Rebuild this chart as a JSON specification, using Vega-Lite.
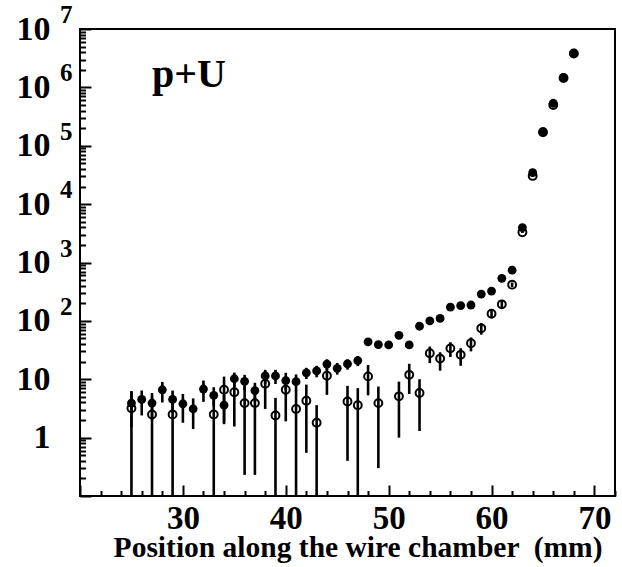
{
  "$schema": "https://vega.github.io/schema/vega-lite/v6.json",
  "width": 535,
  "height": 467,
  "autosize": {"type": "none"},
  "padding": {"left": 80, "top": 29, "right": 7, "bottom": 71},
  "background": "white",
  "config": {
    "view": {"stroke": "black", "strokeWidth": 2},
    "font": "Liberation Serif"
  },
  "datasets": {
    "pts": [
      {"pos": 25, "series": "filled", "n": 3.9, "lo": 1.5, "hi": 6.3},
      {"pos": 26, "series": "filled", "n": 4.5, "lo": 2.4, "hi": 6.4},
      {"pos": 27, "series": "filled", "n": 3.9, "lo": 2.0, "hi": 5.8},
      {"pos": 28, "series": "filled", "n": 6.6, "lo": 4.0, "hi": 9.0},
      {"pos": 29, "series": "filled", "n": 4.5, "lo": 2.6, "hi": 6.4},
      {"pos": 30, "series": "filled", "n": 3.8, "lo": 1.8, "hi": 5.6},
      {"pos": 31, "series": "filled", "n": 3.1, "lo": 1.4, "hi": 4.7},
      {"pos": 32, "series": "filled", "n": 6.8, "lo": 4.1, "hi": 9.5},
      {"pos": 33, "series": "filled", "n": 5.3, "lo": 3.4, "hi": 7.3},
      {"pos": 34, "series": "filled", "n": 3.6, "lo": 1.8, "hi": 5.4},
      {"pos": 35, "series": "filled", "n": 10.2, "lo": 7.4, "hi": 13.0},
      {"pos": 36, "series": "filled", "n": 9.2, "lo": 6.5, "hi": 11.9},
      {"pos": 37, "series": "filled", "n": 6.4, "lo": 4.1, "hi": 8.7},
      {"pos": 38, "series": "filled", "n": 11.4, "lo": 8.3, "hi": 14.5},
      {"pos": 39, "series": "filled", "n": 11.4, "lo": 8.3, "hi": 14.5},
      {"pos": 40, "series": "filled", "n": 9.5, "lo": 6.5, "hi": 12.9},
      {"pos": 41, "series": "filled", "n": 9.1, "lo": 6.2, "hi": 12.1},
      {"pos": 42, "series": "filled", "n": 12.9, "lo": 10.1, "hi": 15.7},
      {"pos": 43, "series": "filled", "n": 13.9, "lo": 10.8, "hi": 17.0},
      {"pos": 44, "series": "filled", "n": 18.2, "lo": 14.4, "hi": 22},
      {"pos": 45, "series": "filled", "n": 15.4, "lo": 12, "hi": 19},
      {"pos": 46, "series": "filled", "n": 18.3, "lo": 14.6, "hi": 22},
      {"pos": 47, "series": "filled", "n": 20.9, "lo": 16.8, "hi": 25},
      {"pos": 48, "series": "filled", "n": 43.7, "lo": 37, "hi": 50},
      {"pos": 49, "series": "filled", "n": 39.3, "lo": 33.5, "hi": 45},
      {"pos": 50, "series": "filled", "n": 38.8, "lo": 33, "hi": 44.5},
      {"pos": 51, "series": "filled", "n": 56.5, "lo": 50, "hi": 63},
      {"pos": 52, "series": "filled", "n": 38.8, "lo": 33, "hi": 44.5},
      {"pos": 53, "series": "filled", "n": 81, "lo": 73, "hi": 89},
      {"pos": 54, "series": "filled", "n": 100, "lo": 90, "hi": 110},
      {"pos": 55, "series": "filled", "n": 110, "lo": 100, "hi": 120},
      {"pos": 56, "series": "filled", "n": 172, "lo": 159, "hi": 185},
      {"pos": 57, "series": "filled", "n": 183, "lo": 169, "hi": 197},
      {"pos": 58, "series": "filled", "n": 187, "lo": 173, "hi": 201},
      {"pos": 59, "series": "filled", "n": 288, "lo": 271, "hi": 305},
      {"pos": 60, "series": "filled", "n": 324, "lo": 306, "hi": 342},
      {"pos": 61, "series": "filled", "n": 535, "lo": 512, "hi": 558},
      {"pos": 62, "series": "filled", "n": 738, "lo": 711, "hi": 765},
      {"pos": 63, "series": "filled", "n": 3960, "lo": 3900, "hi": 4020},
      {"pos": 64, "series": "filled", "n": 34600, "lo": 34400, "hi": 34800},
      {"pos": 65, "series": "filled", "n": 174000, "lo": 173500, "hi": 174500},
      {"pos": 66, "series": "filled", "n": 534000, "lo": 533000, "hi": 535000},
      {"pos": 67, "series": "filled", "n": 1466000, "lo": 1464000, "hi": 1468000},
      {"pos": 68, "series": "filled", "n": 3840000, "lo": 3835000, "hi": 3845000},
      {"pos": 25, "series": "open", "n": 3.2, "lo": 0.1, "hi": 6.0},
      {"pos": 27, "series": "open", "n": 2.5, "lo": 0.1, "hi": 5.0},
      {"pos": 29, "series": "open", "n": 2.5, "lo": 0.1, "hi": 5.0},
      {"pos": 33, "series": "open", "n": 2.5, "lo": 0.1, "hi": 5.0},
      {"pos": 34, "series": "open", "n": 6.6, "lo": 1.7, "hi": 11.1},
      {"pos": 35, "series": "open", "n": 6.0, "lo": 1.55, "hi": 10.5},
      {"pos": 36, "series": "open", "n": 3.9, "lo": 0.23, "hi": 7.5},
      {"pos": 37, "series": "open", "n": 3.9, "lo": 0.23, "hi": 7.6},
      {"pos": 38, "series": "open", "n": 8.4, "lo": 3.1, "hi": 13.7},
      {"pos": 39, "series": "open", "n": 2.4, "lo": 0.1, "hi": 4.8},
      {"pos": 40, "series": "open", "n": 6.6, "lo": 1.9, "hi": 11.3},
      {"pos": 41, "series": "open", "n": 3.1, "lo": 0.1, "hi": 6.5},
      {"pos": 42, "series": "open", "n": 4.3, "lo": 0.55, "hi": 8.1},
      {"pos": 43, "series": "open", "n": 1.8, "lo": 0.1, "hi": 3.6},
      {"pos": 44, "series": "open", "n": 11.5, "lo": 5.4, "hi": 17.6},
      {"pos": 46, "series": "open", "n": 4.15, "lo": 0.4, "hi": 7.7},
      {"pos": 47, "series": "open", "n": 3.6, "lo": 0.1, "hi": 7.05},
      {"pos": 48, "series": "open", "n": 11.2, "lo": 5.3, "hi": 17.5},
      {"pos": 49, "series": "open", "n": 3.9, "lo": 0.3, "hi": 7.5},
      {"pos": 51, "series": "open", "n": 5.1, "lo": 1.0, "hi": 9.1},
      {"pos": 52, "series": "open", "n": 11.9, "lo": 5.6, "hi": 18.4},
      {"pos": 53, "series": "open", "n": 5.8, "lo": 1.3, "hi": 10},
      {"pos": 54, "series": "open", "n": 28, "lo": 18.9, "hi": 36.3},
      {"pos": 55, "series": "open", "n": 22.6, "lo": 14, "hi": 29},
      {"pos": 56, "series": "open", "n": 33.8, "lo": 24, "hi": 43},
      {"pos": 57, "series": "open", "n": 26.2, "lo": 17, "hi": 34},
      {"pos": 58, "series": "open", "n": 41.5, "lo": 30, "hi": 52},
      {"pos": 59, "series": "open", "n": 74.5, "lo": 58, "hi": 92},
      {"pos": 60, "series": "open", "n": 133, "lo": 110, "hi": 160},
      {"pos": 61, "series": "open", "n": 192, "lo": 165, "hi": 220},
      {"pos": 62, "series": "open", "n": 417, "lo": 380, "hi": 455},
      {"pos": 63, "series": "open", "n": 3300, "lo": 3200, "hi": 3400},
      {"pos": 64, "series": "open", "n": 30400, "lo": 30000, "hi": 30800},
      {"pos": 65, "series": "open", "n": 170000, "lo": 169000, "hi": 171000},
      {"pos": 66, "series": "open", "n": 500000, "lo": 498000, "hi": 502000},
      {"pos": 67, "series": "open", "n": 1450000, "lo": 1448000, "hi": 1452000},
      {"pos": 68, "series": "open", "n": 3800000, "lo": 3795000, "hi": 3805000}
    ],
    "exps": [
      {"e": "2", "v": 100},
      {"e": "3", "v": 1000},
      {"e": "4", "v": 10000},
      {"e": "5", "v": 100000},
      {"e": "6", "v": 1000000},
      {"e": "7", "v": 10000000}
    ]
  },
  "layer": [
    {
      "data": {"name": "pts"},
      "transform": [{"filter": "datum.series == 'open'"}],
      "mark": {"type": "rule", "color": "black", "strokeWidth": 2.6},
      "encoding": {
        "x": {
          "field": "pos", "type": "quantitative",
          "scale": {"domain": [20, 72], "nice": false, "zero": false},
          "axis": {
            "orient": "bottom", "values": [30, 40, 50, 60, 70],
            "ticks": false, "domain": false, "grid": false,
            "labelFont": "Liberation Serif", "labelFontWeight": "bold", "labelFontSize": 33,
            "labelColor": "black", "labelPadding": 6, "labelOverlap": false, "labelFlush": false,
            "title": "Position along the wire chamber \u00a0(mm)",
            "titleFont": "Liberation Serif", "titleFontWeight": "bold", "titleFontSize": 29.5,
            "titleColor": "black", "titleAnchor": "end", "titleAlign": "right",
            "titleX": 522, "titleY": 60, "titleBaseline": "alphabetic"
          }
        },
        "y": {
          "field": "lo", "type": "quantitative",
          "scale": {"type": "log", "domain": [0.1, 10000000], "nice": false},
          "axis": {
            "orient": "left", "values": [1, 10, 100, 1000, 10000, 100000, 1000000, 10000000],
            "labelExpr": "datum.value < 5 ? '1' : '10'",
            "ticks": false, "domain": false, "grid": false,
            "labelFont": "Liberation Serif", "labelFontWeight": "bold", "labelFontSize": 34,
            "labelColor": "black", "labelPadding": 30, "labelOverlap": false, "labelFlush": false,
            "labelBound": false, "title": null
          }
        },
        "y2": {"field": "hi"}
      }
    },
    {
      "data": {"name": "pts"},
      "transform": [{"filter": "datum.series == 'filled'"}],
      "mark": {"type": "rule", "color": "black", "strokeWidth": 2.6},
      "encoding": {
        "x": {"field": "pos", "type": "quantitative", "axis": null},
        "y": {"field": "lo", "type": "quantitative", "axis": null},
        "y2": {"field": "hi"}
      }
    },
    {
      "data": {"name": "pts"},
      "transform": [{"filter": "datum.series == 'open'"}],
      "mark": {"type": "point", "shape": "circle", "filled": false, "stroke": "black", "strokeWidth": 2, "size": 62, "opacity": 1},
      "encoding": {
        "x": {"field": "pos", "type": "quantitative", "axis": null},
        "y": {"field": "n", "type": "quantitative", "axis": null}
      }
    },
    {
      "data": {"name": "pts"},
      "transform": [{"filter": "datum.series == 'filled'"}],
      "mark": {"type": "point", "shape": "circle", "filled": true, "color": "black", "size": 78, "opacity": 1},
      "encoding": {
        "x": {"field": "pos", "type": "quantitative", "axis": null},
        "y": {"field": "n", "type": "quantitative", "axis": null}
      }
    },
    {
      "data": {"name": "exps"},
      "mark": {"type": "text", "font": "Liberation Serif", "fontWeight": "bold", "fontSize": 25, "color": "black", "align": "left", "baseline": "alphabetic", "dx": -20, "dy": -6},
      "encoding": {
        "x": {"datum": 20, "type": "quantitative", "axis": null},
        "y": {"field": "v", "type": "quantitative", "axis": null},
        "text": {"field": "e"}
      }
    },
    {
      "data": {"values": [{"label": "p+U", "px": 27, "py": 1000000}]},
      "mark": {"type": "text", "font": "Liberation Serif", "fontWeight": "bold", "fontSize": 40, "color": "black", "align": "left", "baseline": "alphabetic"},
      "encoding": {
        "x": {
          "field": "px", "type": "quantitative",
          "axis": {
            "orient": "bottom",
            "values": [20, 22, 24, 26, 28, 30, 32, 34, 36, 38, 40, 42, 44, 46, 48, 50, 52, 54, 56, 58, 60, 62, 64, 66, 68, 70, 72],
            "labels": false, "domain": false, "grid": false, "title": null,
            "tickColor": "black", "tickWidth": 2,
            "tickSize": {"condition": {"test": "datum.value % 10 == 0", "value": -11}, "value": -5.5}
          }
        },
        "y": {
          "field": "py", "type": "quantitative",
          "axis": {
            "orient": "left",
            "values": [0.1, 0.2, 0.3, 0.4, 0.5, 0.6, 0.7, 0.8, 0.9, 1, 2, 3, 4, 5, 6, 7, 8, 9, 10, 20, 30, 40, 50, 60, 70, 80, 90, 100, 200, 300, 400, 500, 600, 700, 800, 900, 1000, 2000, 3000, 4000, 5000, 6000, 7000, 8000, 9000, 10000, 20000, 30000, 40000, 50000, 60000, 70000, 80000, 90000, 100000, 200000, 300000, 400000, 500000, 600000, 700000, 800000, 900000, 1000000, 2000000, 3000000, 4000000, 5000000, 6000000, 7000000, 8000000, 9000000, 10000000],
            "labels": false, "domain": false, "grid": false, "title": null,
            "tickColor": "black", "tickWidth": 2,
            "tickSize": {"condition": {"test": "indexof([0.1, 1, 10, 100, 1000, 10000, 100000, 1000000, 10000000], datum.value) >= 0", "value": -11}, "value": -5.5}
          }
        },
        "text": {"field": "label"}
      }
    }
  ],
  "resolve": {"axis": {"x": "independent", "y": "independent"}}
}
